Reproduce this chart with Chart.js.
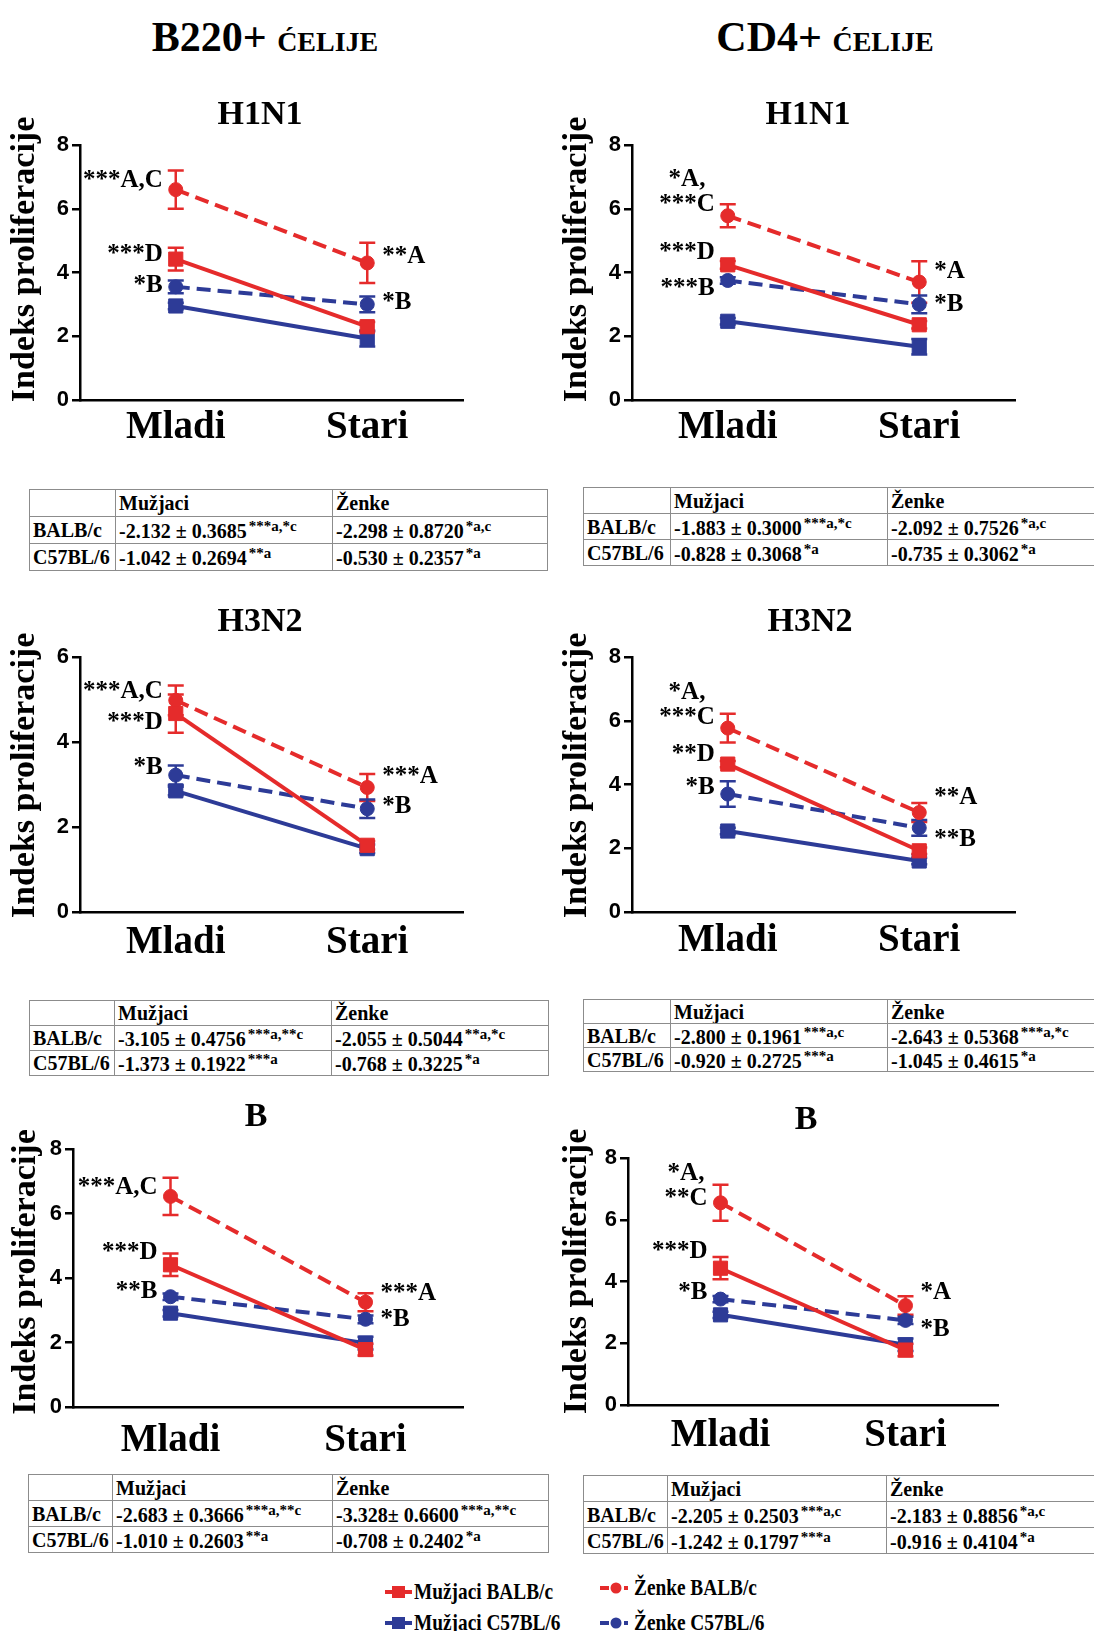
<!DOCTYPE html>
<html lang="sr">
<head>
<meta charset="utf-8">
<title>Indeks proliferacije</title>
<script src="https://cdn.jsdelivr.net/npm/chart.js@4.4.1/dist/chart.umd.min.js"></script>
<style>
  html, body { margin: 0; padding: 0; background: #fff; }
  body {
    width: 1094px; height: 1631px; position: relative; overflow: hidden;
    font-family: 'Liberation Serif', 'Times New Roman', serif; font-weight: bold; color: #000;
  }
  canvas { position: absolute; }
  .head { position: absolute; line-height: 1; white-space: nowrap; transform: translateX(-50%); }
  .colhead { font-size: 42px; }
  .colhead span { font-size: 28px; }
  .ptitle { font-size: 34px; }
  table.slope { position: absolute; border-collapse: collapse; table-layout: fixed; }
  table.slope td {
    border: 1px solid #8c8c8c; padding: 0 0 0 3px; font-size: 20px; line-height: 1;
    white-space: nowrap; overflow: hidden; vertical-align: middle;
  }
  table.slope tr:first-child td { font-size: 23px; }
  table.slope sup { font-size: 15px; vertical-align: 7px; margin-left: 2px; }
  .leg { position: absolute; font-size: 23px; line-height: 1; white-space: nowrap; display: flex; align-items: center; }
  .leg svg { margin-right: 2px; flex: none; }
  .leg span { display: inline-block; transform: scaleX(0.84); transform-origin: left center; }
</style>
</head>
<body>
<script>
// kategorije i serije
const categories = ['Mladi', 'Stari']
const seriesNames = ['Mužjaci BALB/c', 'Ženke BALB/c', 'Mužjaci C57BL/6', 'Ženke C57BL/6']
const columnTitles = ['B220+', 'CD4+']
const columnSuffix = 'ĆELIJE'
const panelTitles = ['H1N1', 'H1N1', 'H3N2', 'H3N2', 'B', 'B']
const yMax = [8, 8, 6, 8, 8, 8]
const yStep = 2
const yTitle = 'Indeks proliferacije'

// srednje vrednosti po panelu: [Mladi, Stari]
// redosled panela: B220 H1N1, CD4 H1N1, B220 H3N2, CD4 H3N2, B220 B, CD4 B
const maleBalb = [[4.42, 2.30], [4.24, 2.36], [4.67, 1.57], [4.64, 1.92], [4.41, 1.78], [4.43, 1.78]]
const femaleBalb = [[6.60, 4.30], [5.78, 3.70], [4.98, 2.93], [5.77, 3.12], [6.53, 3.25], [6.55, 3.22]]
const maleC57 = [[2.95, 1.93], [2.47, 1.67], [2.85, 1.49], [2.54, 1.60], [2.91, 1.98], [2.92, 1.95]]
const femaleC57 = [[3.55, 3.00], [3.75, 3.00], [3.22, 2.43], [3.70, 2.64], [3.42, 2.72], [3.43, 2.74]]

// SEM
const maleBalbErr = [[0.36, 0.15], [0.12, 0.12], [0.45, 0.10], [0.10, 0.10], [0.35, 0.18], [0.36, 0.20]]
const femaleBalbErr = [[0.60, 0.63], [0.36, 0.65], [0.35, 0.32], [0.45, 0.30], [0.58, 0.28], [0.58, 0.30]]
const maleC57Err = [[0.10, 0.25], [0.10, 0.24], [0.10, 0.10], [0.10, 0.10], [0.10, 0.20], [0.10, 0.20]]
const femaleC57Err = [[0.20, 0.25], [0.10, 0.28], [0.23, 0.22], [0.40, 0.25], [0.10, 0.12], [0.10, 0.12]]

// tabele nagiba
const slopeRows = ['BALB/c', 'C57BL/6']
const slopeCols = ['Mužjaci', 'Ženke']
const slopeMaleBalb = ['-2.132 ± 0.3685', '-1.883 ± 0.3000', '-3.105 ± 0.4756', '-2.800 ± 0.1961', '-2.683 ± 0.3666', '-2.205 ± 0.2503']
const slopeMaleBalbSig = ['***a,*c', '***a,*c', '***a,**c', '***a,c', '***a,**c', '***a,c']
const slopeFemaleBalb = ['-2.298 ± 0.8720', '-2.092 ± 0.7526', '-2.055 ± 0.5044', '-2.643 ± 0.5368', '-3.328± 0.6600', '-2.183 ± 0.8856']
const slopeFemaleBalbSig = ['*a,c', '*a,c', '**a,*c', '***a,*c', '***a,**c', '*a,c']
const slopeMaleC57 = ['-1.042 ± 0.2694', '-0.828 ± 0.3068', '-1.373 ± 0.1922', '-0.920 ± 0.2725', '-1.010 ± 0.2603', '-1.242 ± 0.1797']
const slopeMaleC57Sig = ['**a', '*a', '***a', '***a', '**a', '***a']
const slopeFemaleC57 = ['-0.530 ± 0.2357', '-0.735 ± 0.3062', '-0.768 ± 0.3225', '-1.045 ± 0.4615', '-0.708 ± 0.2402', '-0.916 ± 0.4104']
const slopeFemaleC57Sig = ['*a', '*a', '*a', '*a', '*a', '*a']

// oznake znacajnosti uz tacke
const notes = [
  [{ cat: 0, y: 6.9, lines: ['***A,C'] }, { cat: 0, y: 4.55, lines: ['***D'] }, { cat: 0, y: 3.6, lines: ['*B'] },
   { cat: 1, y: 4.49, lines: ['**A'] }, { cat: 1, y: 3.07, lines: ['*B'] }],
  [{ cat: 0, y: 6.12, lines: ['*A,', '***C'] }, { cat: 0, y: 4.64, lines: ['***D'] }, { cat: 0, y: 3.51, lines: ['***B'] },
   { cat: 1, y: 4.02, lines: ['*A'] }, { cat: 1, y: 2.98, lines: ['*B'] }],
  [{ cat: 0, y: 5.18, lines: ['***A,C'] }, { cat: 0, y: 4.45, lines: ['***D'] }, { cat: 0, y: 3.39, lines: ['*B'] },
   { cat: 1, y: 3.18, lines: ['***A'] }, { cat: 1, y: 2.47, lines: ['*B'] }],
  [{ cat: 0, y: 6.09, lines: ['*A,', '***C'] }, { cat: 0, y: 4.93, lines: ['**D'] }, { cat: 0, y: 3.92, lines: ['*B'] },
   { cat: 1, y: 3.58, lines: ['**A'] }, { cat: 1, y: 2.26, lines: ['**B'] }],
  [{ cat: 0, y: 6.79, lines: ['***A,C'] }, { cat: 0, y: 4.78, lines: ['***D'] }, { cat: 0, y: 3.57, lines: ['**B'] },
   { cat: 1, y: 3.53, lines: ['***A'] }, { cat: 1, y: 2.70, lines: ['*B'] }],
  [{ cat: 0, y: 6.70, lines: ['*A,', '**C'] }, { cat: 0, y: 4.96, lines: ['***D'] }, { cat: 0, y: 3.63, lines: ['*B'] },
   { cat: 1, y: 3.63, lines: ['*A'] }, { cat: 1, y: 2.46, lines: ['*B'] }],
]

// raspored (pikseli)
const RED = '#e52b2b'
const BLUE = '#2d3b97'
const SERIF = '"Liberation Serif", "Times New Roman", serif'
const SANS = '"Liberation Sans", Arial, sans-serif'

const layout = [
  { left: 0, width: 540, axisX: 80, axisRight: 463, top: 145, bottom: 400, ytX: 25, ytShift: 13, catGap: 8, titleX: 260, titleY: 113 },
  { left: 560, width: 534, axisX: 632, axisRight: 1015, top: 145, bottom: 400, ytX: 17, ytShift: 13, catGap: 8, titleX: 808, titleY: 113 },
  { left: 0, width: 540, axisX: 80, axisRight: 463, top: 657, bottom: 912, ytX: 25, ytShift: 9, catGap: 11, titleX: 260, titleY: 620 },
  { left: 560, width: 534, axisX: 632, axisRight: 1015, top: 657, bottom: 912, ytX: 17, ytShift: 9, catGap: 9, titleX: 810, titleY: 620 },
  { left: 0, width: 540, axisX: 73, axisRight: 463, top: 1149, bottom: 1407, ytX: 26, ytShift: 6, catGap: 14, titleX: 256, titleY: 1115 },
  { left: 560, width: 534, axisX: 628, axisRight: 998, top: 1158, bottom: 1405, ytX: 17, ytShift: 10, catGap: 11, titleX: 806, titleY: 1118 },
]

const tableLayout = [
  { left: 29, top: 489, cols: [86, 217, 215], rowH: 27 },
  { left: 583, top: 487, cols: [87, 217, 240], rowH: 26 },
  { left: 29, top: 1000, cols: [85, 217, 217], rowH: 25 },
  { left: 583, top: 999, cols: [87, 217, 240], rowH: 24 },
  { left: 28, top: 1474, cols: [84, 220, 216], rowH: 26 },
  { left: 583, top: 1475, cols: [84, 219, 240], rowH: 26 },
]

const colHeadPos = [{ x: 265, y: 37 }, { x: 825, y: 37 }]
const legendPos = [{ x: 385, y: 1592 }, { x: 600, y: 1588 }, { x: 385, y: 1623 }, { x: 600, y: 1623 }]

function addHead(cls, html, x, capY, size) {
  const d = document.createElement('div')
  d.className = 'head ' + cls
  d.innerHTML = html
  d.style.left = x + 'px'
  d.style.top = (capY - size / 2) + 'px'
  document.body.appendChild(d)
}

columnTitles.forEach((t, i) => {
  addHead('colhead', t + ' <span>' + columnSuffix + '</span>', colHeadPos[i].x, colHeadPos[i].y, 42)
})

// error bars ispod linija
const errorBars = {
  id: 'errorBars',
  beforeDatasetsDraw(chart) {
    const { ctx, scales: { y } } = chart
    chart.data.datasets.forEach((ds, i) => {
      const meta = chart.getDatasetMeta(i)
      ctx.save()
      ctx.strokeStyle = ds.borderColor
      ctx.lineWidth = 2.5
      meta.data.forEach((pt, j) => {
        const v = ds.data[j]
        const e = ds.errors[j]
        const yt = y.getPixelForValue(v + e)
        const yb = y.getPixelForValue(v - e)
        ctx.beginPath()
        ctx.moveTo(pt.x, yt); ctx.lineTo(pt.x, yb)
        ctx.moveTo(pt.x - 8, yt); ctx.lineTo(pt.x + 8, yt)
        ctx.moveTo(pt.x - 8, yb); ctx.lineTo(pt.x + 8, yb)
        ctx.stroke()
      })
      ctx.restore()
    })
  }
}

// oznake znacajnosti i naslov y ose
function notesPlugin(items, L) {
  return {
    id: 'notes',
    afterDraw(chart) {
      const { ctx, chartArea, scales: { x, y } } = chart
      ctx.save()
      ctx.font = 'bold 25px ' + SERIF
      ctx.fillStyle = '#000'
      ctx.textBaseline = 'middle'
      ctx.textAlign = 'center'
      items.forEach(n => {
        const px = x.getPixelForValue(n.cat)
        const py = y.getPixelForValue(n.y)
        const w = Math.max(...n.lines.map(t => ctx.measureText(t).width))
        const cx = n.cat === 0 ? px - 13 - w / 2 : px + 15 + w / 2
        n.lines.forEach((t, k) => ctx.fillText(t, cx, py - (n.lines.length - 1 - k) * 25))
      })
      ctx.translate(y.left + L.ytX, (chartArea.top + chartArea.bottom) / 2 - L.ytShift)
      ctx.rotate(-Math.PI / 2)
      ctx.font = 'bold 34px ' + SERIF
      ctx.fillText(yTitle, 0, 0)
      ctx.restore()
    }
  }
}

function makePanel(p) {
  const L = layout[p]
  const H = (L.bottom - L.top) + 140
  const cv = document.createElement('canvas')
  cv.width = L.width
  cv.height = H
  cv.style.left = L.left + 'px'
  cv.style.top = (L.top - 80) + 'px'
  document.body.appendChild(cv)

  addHead('ptitle', panelTitles[p], L.titleX, L.titleY, 34)

  const mk = (label, data, err, color, dashed) => ({
    label,
    data,
    errors: err,
    borderColor: color,
    backgroundColor: color,
    borderWidth: 4,
    borderDash: dashed ? [14, 7] : [],
    pointStyle: dashed ? 'circle' : 'rect',
    pointRadius: dashed ? 7 : 10,
    pointBorderWidth: 1,
    pointBackgroundColor: color,
    pointBorderColor: color,
    tension: 0,
  })

  new Chart(cv, {
    type: 'line',
    data: {
      labels: categories,
      datasets: [
        mk(seriesNames[0], maleBalb[p], maleBalbErr[p], RED, false),
        mk(seriesNames[1], femaleBalb[p], femaleBalbErr[p], RED, true),
        mk(seriesNames[2], maleC57[p], maleC57Err[p], BLUE, false),
        mk(seriesNames[3], femaleC57[p], femaleC57Err[p], BLUE, true),
      ],
    },
    options: {
      responsive: false,
      animation: false,
      events: [],
      layout: { padding: { top: 80, bottom: 0, left: 0, right: L.width - (L.axisRight - L.left) } },
      plugins: { legend: { display: false }, tooltip: { enabled: false } },
      scales: {
        x: {
          offset: true,
          grid: { display: false, drawTicks: false },
          border: { display: true, color: '#000', width: 2.5 },
          ticks: { color: '#000', padding: L.catGap, font: { family: SERIF, weight: 'bold', size: 39, lineHeight: 1 } },
          afterFit: s => { s.height = 60 },
        },
        y: {
          min: 0,
          max: yMax[p],
          grid: { drawOnChartArea: false, drawTicks: true, tickLength: 8, color: '#000', lineWidth: 2.5 },
          border: { display: true, color: '#000', width: 2.5 },
          ticks: { stepSize: yStep, color: '#000', padding: 3, font: { family: SANS, weight: 'bold', size: 22 } },
          afterFit: s => { s.width = L.axisX - L.left },
        },
      },
    },
    plugins: [errorBars, notesPlugin(notes[p], L)],
  })
}

function makeTable(p) {
  const T = tableLayout[p]
  const tb = document.createElement('table')
  tb.className = 'slope'
  tb.style.left = T.left + 'px'
  tb.style.top = T.top + 'px'
  const cg = document.createElement('colgroup')
  T.cols.forEach(w => { const c = document.createElement('col'); c.style.width = w + 'px'; cg.appendChild(c) })
  tb.appendChild(cg)
  tb.style.width = T.cols.reduce((a, b) => a + b, 0) + 'px'
  const cell = (v, s) => v + '<sup>' + s + '</sup>'
  const rows = [
    ['', slopeCols[0], slopeCols[1]],
    [slopeRows[0], cell(slopeMaleBalb[p], slopeMaleBalbSig[p]), cell(slopeFemaleBalb[p], slopeFemaleBalbSig[p])],
    [slopeRows[1], cell(slopeMaleC57[p], slopeMaleC57Sig[p]), cell(slopeFemaleC57[p], slopeFemaleC57Sig[p])],
  ]
  rows.forEach(r => {
    const tr = document.createElement('tr')
    tr.style.height = T.rowH + 'px'
    r.forEach(v => { const td = document.createElement('td'); td.innerHTML = v; tr.appendChild(td) })
    tb.appendChild(tr)
  })
  document.body.appendChild(tb)
}

for (let p = 0; p < 6; p++) {
  makePanel(p)
  makeTable(p)
}

// zajednicka legenda
const legendColor = [RED, RED, BLUE, BLUE]
const legendDashed = [false, true, false, true]
seriesNames.forEach((name, i) => {
  const c = legendColor[i]
  const svg = legendDashed[i]
    ? '<svg width="32" height="16"><line x1="0" y1="8" x2="9" y2="8" stroke="' + c + '" stroke-width="4"/>' +
      '<circle cx="16" cy="8" r="5.5" fill="' + c + '"/><line x1="24" y1="8" x2="28" y2="8" stroke="' + c + '" stroke-width="4"/></svg>'
    : '<svg width="27" height="16"><line x1="0" y1="8" x2="27" y2="8" stroke="' + c + '" stroke-width="4"/>' +
      '<rect x="7" y="2" width="13" height="12" fill="' + c + '"/></svg>'
  const d = document.createElement('div')
  d.className = 'leg'
  d.innerHTML = svg + '<span>' + name + '</span>'
  d.style.left = legendPos[i].x + 'px'
  d.style.top = (legendPos[i].y - 12) + 'px'
  document.body.appendChild(d)
})
</script>
</body>
</html>
